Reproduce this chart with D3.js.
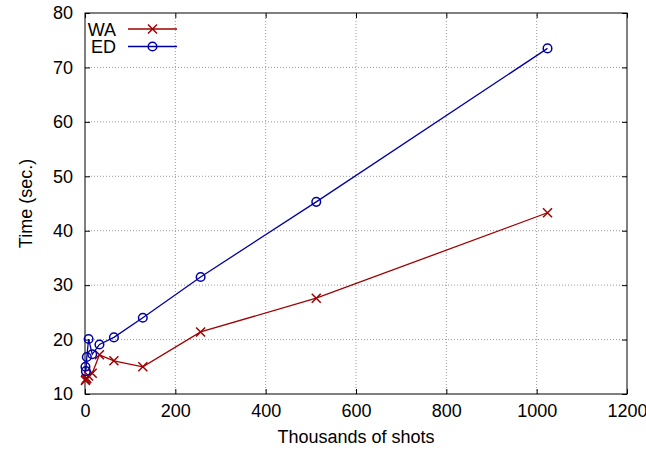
<!DOCTYPE html>
<html><head><meta charset="utf-8">
<script src="https://cdn.jsdelivr.net/npm/d3@7"></script>
<style>body{margin:0;background:#fff}svg{display:block}text{font-family:"Liberation Sans",Arial,sans-serif}</style>
</head><body>
<script>
const shots = [1, 2, 4, 8, 16, 32, 64, 128, 256, 512, 1024];
const waTimes = [12.5, 12.7, 12.9, 13.3, 13.8, 17.2, 16.1, 15.0, 21.4, 27.6, 43.3];
const edTimes = [15.0, 14.2, 16.8, 20.1, 17.3, 19.1, 20.4, 24.0, 31.5, 45.3, 73.5];
const xTicks = [0, 200, 400, 600, 800, 1000, 1200];
const yTicks = [10, 20, 30, 40, 50, 60, 70, 80];
const seriesNames = ["WA", "ED"];
const seriesColors = ["#a00000", "#0000a0"];

const W = 646, H = 450;
const m = {left: 85, right: 19, top: 13, bottom: 56};
const FS = 18;
const svg = d3.select("body").append("svg").attr("width", W).attr("height", H);
const x = d3.scaleLinear().domain([0, 1200]).range([m.left, W - m.right]);
const y = d3.scaleLinear().domain([10, 80]).range([H - m.bottom, m.top]);

// grid
const g = svg.append("g");
g.selectAll(".gx").data(xTicks.slice(1, -1)).join("line")
  .attr("x1", d => x(d)).attr("x2", d => x(d)).attr("y1", y(10)).attr("y2", y(80))
  .attr("stroke", "#999").attr("stroke-dasharray", "1,2").attr("stroke-width", 1);
g.selectAll(".gy").data(yTicks.slice(1, -1)).join("line")
  .attr("y1", d => y(d)).attr("y2", d => y(d)).attr("x1", x(0)).attr("x2", x(1200))
  .attr("stroke", "#999").attr("stroke-dasharray", "1,2").attr("stroke-width", 1);

// axes with inward ticks
const tl = 5;
const fmt = d3.format("d");
const ax = svg.append("g").attr("transform", `translate(0,${y(10)})`)
  .call(d3.axisBottom(x).tickValues(xTicks).tickFormat(fmt).tickSizeInner(-tl).tickSizeOuter(0).tickPadding(10));
const axT = svg.append("g").attr("transform", `translate(0,${y(80)})`)
  .call(d3.axisTop(x).tickValues(xTicks).tickSizeInner(-tl).tickSizeOuter(0).tickFormat(""));
const ay = svg.append("g").attr("transform", `translate(${x(0)},0)`)
  .call(d3.axisLeft(y).tickValues(yTicks).tickFormat(fmt).tickSizeInner(-tl).tickSizeOuter(0).tickPadding(12));
const ayR = svg.append("g").attr("transform", `translate(${x(1200)},0)`)
  .call(d3.axisRight(y).tickValues(yTicks).tickSizeInner(-tl).tickSizeOuter(0).tickFormat(""));
[ax, axT, ay, ayR].forEach(a => {
  a.select(".domain").remove();
  a.selectAll("text").attr("font-size", FS).attr("fill", "#000").attr("font-family", '"Liberation Sans",Arial,sans-serif');
  a.selectAll("line").attr("stroke", "#000");
});
svg.append("rect").attr("x", x(0)).attr("y", y(80)).attr("width", x(1200) - x(0)).attr("height", y(10) - y(80))
  .attr("fill", "none").attr("stroke", "#000").attr("stroke-width", 1);

// labels
svg.append("text").attr("x", (x(0) + x(1200)) / 2).attr("y", 443).attr("text-anchor", "middle")
  .attr("font-size", FS).text("Thousands of shots");
svg.append("text").attr("transform", `translate(32,${(y(10) + y(80)) / 2}) rotate(-90)`).attr("text-anchor", "middle")
  .attr("font-size", FS).text("Time (sec.)");

const line = d3.line().x(d => x(d[0])).y(d => y(d[1]));
function cross(sel, cx, cy, c) {
  const s = 4.5;
  sel.append("path").attr("d", `M${cx - s},${cy - s}L${cx + s},${cy + s}M${cx - s},${cy + s}L${cx + s},${cy - s}`)
    .attr("stroke", c).attr("stroke-width", 1.5).attr("fill", "none");
}
function circ(sel, cx, cy, c) {
  sel.append("circle").attr("cx", cx).attr("cy", cy).attr("r", 4.3)
    .attr("stroke", c).attr("stroke-width", 1.5).attr("fill", "none");
}
const data = [shots.map((s, i) => [s, waTimes[i]]), shots.map((s, i) => [s, edTimes[i]])];
const markers = [cross, circ];
data.forEach((pts, k) => {
  const gs = svg.append("g");
  gs.append("path").attr("d", line(pts)).attr("fill", "none").attr("stroke", seriesColors[k]).attr("stroke-width", 1.3);
  pts.forEach(p => markers[k](gs, x(p[0]), y(p[1]), seriesColors[k]));
});

// legend
seriesNames.forEach((n, k) => {
  const ly = 29 + k * 17.5;
  svg.append("text").attr("x", 116).attr("y", ly + 6.5).attr("text-anchor", "end").attr("font-size", FS).text(n);
  svg.append("line").attr("x1", 128).attr("x2", 177).attr("y1", ly).attr("y2", ly)
    .attr("stroke", seriesColors[k]).attr("stroke-width", 1.3);
  markers[k](svg, 152.5, ly, seriesColors[k]);
});
</script>
</body></html>
